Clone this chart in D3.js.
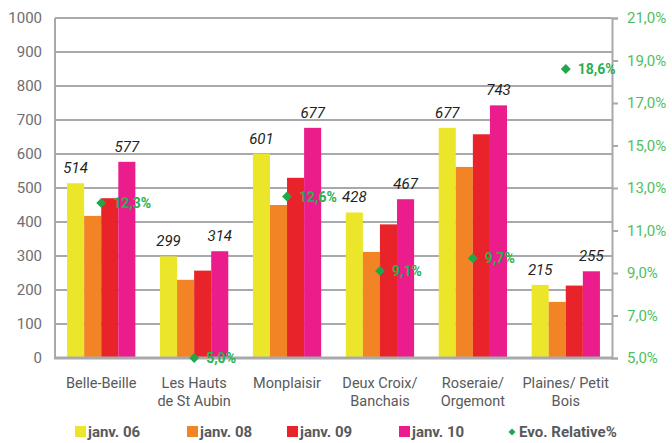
<!DOCTYPE html>
<html>
<head>
<meta charset="utf-8">
<script src="https://cdn.jsdelivr.net/npm/d3@7"></script>
<style>
  body { margin: 0; background: #fff; }
  svg { font-family: Roboto, "DejaVu Sans", sans-serif; }
</style>
</head>
<body>
<div id="chart"></div>
<script>
// categories and series
const categories = ["Belle-Beille", "Les Hauts\nde St Aubin", "Monplaisir", "Deux Croix/\nBanchais", "Roseraie/\nOrgemont", "Plaines/ Petit\nBois"];
const seriesNames = ["janv. 06", "janv. 08", "janv. 09", "janv. 10"];
const seriesColors = ["#ece62b", "#f38426", "#e8232a", "#eb1c8b"];
const janv06 = [514, 299, 601, 428, 677, 215];
const janv08 = [418, 230, 450, 312, 562, 165];
const janv09 = [470, 257, 530, 393, 658, 213];
const janv10 = [577, 314, 677, 467, 743, 255];
const evoRelative = [12.3, 5.0, 12.6, 9.1, 9.7, 18.6];
const leftTicks = [0, 100, 200, 300, 400, 500, 600, 700, 800, 900, 1000];
const rightTicks = [5, 7, 9, 11, 13, 15, 17, 19, 21];

const series = [janv06, janv08, janv09, janv10];
const width = 672, height = 443;
const margin = { left: 55, right: 60, top: 18, bottom: 85 };

const svg = d3.select("#chart").append("svg")
    .attr("width", width)
    .attr("height", height);

const x = d3.scaleBand()
    .domain(d3.range(categories.length))
    .range([margin.left, width - margin.right])
    .paddingInner(0.265)
    .paddingOuter(0.13);

const xs = d3.scaleBand()
    .domain(d3.range(series.length))
    .range([0, x.bandwidth()]);

const y = d3.scaleLinear().domain([0, 1000]).range([height - margin.bottom, margin.top]);
const y2 = d3.scaleLinear().domain([5, 21]).range([height - margin.bottom, margin.top]);

const fmt = v => v.toFixed(1).replace(".", ",") + "%";

// grid lines
svg.append("g").selectAll("line")
    .data(leftTicks.slice(1))
    .join("line")
    .attr("x1", margin.left).attr("x2", width - margin.right)
    .attr("y1", d => y(d)).attr("y2", d => y(d))
    .attr("stroke", "#a7a9ac").attr("stroke-width", 2);

// left axis labels
svg.append("g").selectAll("text")
    .data(leftTicks)
    .join("text")
    .attr("x", 42).attr("y", d => y(d))
    .attr("dy", "0.35em")
    .attr("text-anchor", "end")
    .attr("fill", "#6d6e71")
    .style("font-size", "15px")
    .text(d => d);

// bars
categories.forEach((c, i) => {
    const g = svg.append("g").attr("transform", `translate(${x(i)},0)`);
    series.forEach((s, j) => {
        g.append("rect")
            .attr("x", xs(j))
            .attr("width", xs.bandwidth())
            .attr("y", y(s[i]))
            .attr("height", y(0) - y(s[i]))
            .attr("fill", seriesColors[j]);
    });
    // value labels on first and last series
    [0, 3].forEach(j => {
        g.append("text")
            .attr("x", xs(j) + xs.bandwidth() / 2)
            .attr("y", y(series[j][i]) - 10)
            .attr("text-anchor", "middle")
            .attr("fill", "#231f20")
            .style("font-size", "15px")
            .style("font-style", "italic")
            .text(series[j][i]);
    });
});

// axes lines
svg.append("line")
    .attr("x1", margin.left).attr("x2", margin.left)
    .attr("y1", margin.top).attr("y2", y(0))
    .attr("stroke", "#a7a9ac").attr("stroke-width", 2);
svg.append("line")
    .attr("x1", margin.left - 1).attr("x2", width - margin.right + 1)
    .attr("y1", y(0)).attr("y2", y(0))
    .attr("stroke", "#a7a9ac").attr("stroke-width", 3);

// right axis
const rightAxis = svg.append("g")
    .attr("transform", `translate(${width - margin.right},0)`)
    .call(d3.axisRight(y2).tickValues(rightTicks).tickSize(6).tickFormat(fmt));
rightAxis.select(".domain").attr("stroke", "#a7a9ac").attr("stroke-width", 2);
rightAxis.selectAll(".tick line").attr("stroke", "#a7a9ac").attr("stroke-width", 2);
rightAxis.selectAll(".tick text")
    .attr("x", 15)
    .attr("fill", "#4dc160")
    .style("font-size", "15px")
    .style("font-family", "Roboto, sans-serif");

// evo relative points
const diamond = d3.symbol().type(d3.symbolSquare).size(49);
const pts = svg.append("g").selectAll("g")
    .data(evoRelative)
    .join("g")
    .attr("transform", (d, i) => `translate(${x(i) + x.bandwidth() / 2},${y2(d)})`);
pts.append("path").attr("d", diamond).attr("transform", "rotate(45)").attr("fill", "#1fa84a");
pts.append("text")
    .attr("x", 12).attr("dy", "0.36em")
    .attr("fill", "#28b04e")
    .style("font-size", "14px")
    .style("font-weight", "bold")
    .text(d => fmt(d));

// category labels
svg.append("g").selectAll("text")
    .data(categories)
    .join("text")
    .attr("x", (d, i) => x(i) + x.bandwidth() / 2)
    .attr("y", y(0) + 30)
    .attr("text-anchor", "middle")
    .attr("fill", "#58595b")
    .style("font-size", "14.5px")
    .each(function (d) {
        d.split("\n").forEach((line, k) => {
            d3.select(this).append("tspan")
                .attr("x", d3.select(this).attr("x"))
                .attr("dy", k === 0 ? 0 : 18)
                .text(line);
        });
    });

// legend
const legendX = [75, 187, 287, 399];
const legendY = 432;
seriesNames.forEach((n, j) => {
    svg.append("rect")
        .attr("x", legendX[j]).attr("y", legendY - 6)
        .attr("width", 11).attr("height", 11)
        .attr("fill", seriesColors[j]);
    svg.append("text")
        .attr("x", legendX[j] + 13).attr("y", legendY)
        .attr("dy", "0.35em")
        .attr("fill", "#58595b")
        .style("font-size", "15px")
        .style("font-weight", "bold")
        .text(n);
});
svg.append("path")
    .attr("d", d3.symbol().type(d3.symbolSquare).size(25))
    .attr("transform", `translate(512,${legendY}) rotate(45)`)
    .attr("fill", "#1fa84a");
svg.append("text")
    .attr("x", 519).attr("y", legendY)
    .attr("dy", "0.35em")
    .attr("fill", "#58595b")
    .style("font-size", "15px")
    .style("font-weight", "bold")
    .text("Evo. Relative%");
</script>
</body>
</html>
